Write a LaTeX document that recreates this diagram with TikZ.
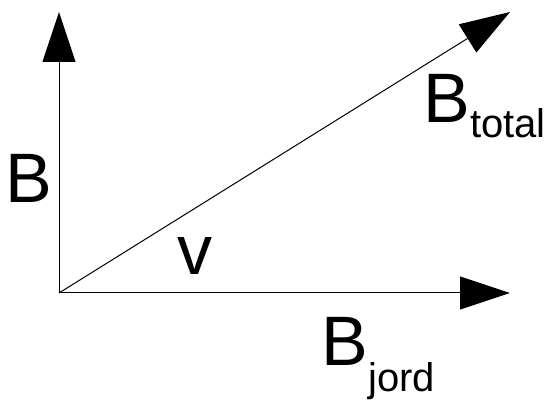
\documentclass[tikz,border=0pt]{standalone}
\usepackage{fontspec}
\setmainfont{Liberation Sans}
\usetikzlibrary{arrows.meta, positioning}

\newcommand{\bigtxt}{\fontsize{70}{70}\selectfont}
\newcommand{\subtxt}{\fontsize{40}{40}\selectfont}

\begin{document}
\begin{tikzpicture}[x=1pt, y=-1pt, >={Triangle[length=50pt, width=33pt]}, line width=1pt]
        \useasboundingbox (0,0) rectangle (552,403);
        \coordinate (origo) at (59,293);
        \coordinate (btip) at (59,12);
        \coordinate (jtip) at (510,293);
        \coordinate (ttip) at (510,12);
        \draw[->] (origo) -- (btip);
        \draw[->] (origo) -- (jtip);
        \draw[->] (origo) -- (ttip);
        \node[anchor=base west, inner sep=0pt] (b) at (5,203) {\bigtxt B};
        \node[anchor=base west, inner sep=0pt] (v) at (177,275) {\bigtxt v};
        \node[anchor=base west, inner sep=0pt] (btotal) at (423,123) {\bigtxt B\subtxt\raisebox{-15pt}{total}};
        \node[anchor=base west, inner sep=0pt] (bjord) at (321,366) {\bigtxt B\subtxt\raisebox{-26pt}{jord}};
    \end{tikzpicture}
\end{document}
